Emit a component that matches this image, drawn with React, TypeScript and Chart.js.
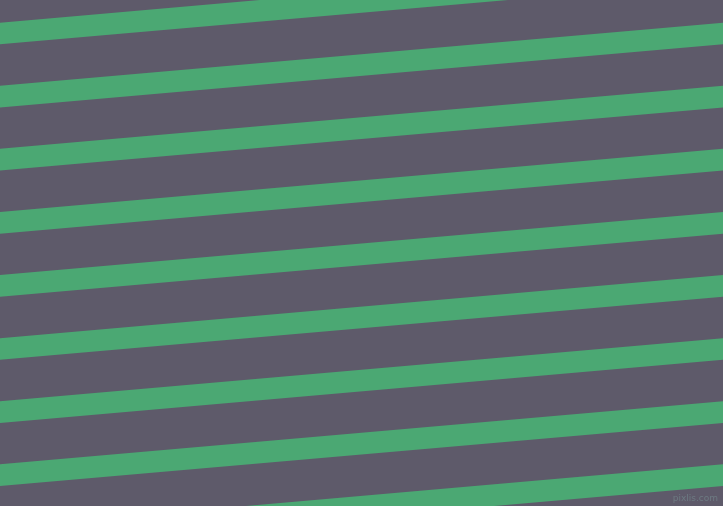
import React, { useRef, useEffect } from 'react';
import { Chart, registerables } from 'chart.js';
Chart.register(...registerables);

// stripe centre heights at the left (x = 0) and right (x = 723) edges
const stripeLeft = [33.5, 96.6, 159.7, 222.8, 285.9, 349.0, 412.1, 475.2, 538.3];
const stripeRight = [-29.6, 33.5, 96.6, 159.7, 222.8, 285.9, 349.0, 412.1, 475.2];
const edgeX = [0, 723];

const W = 723;
const H = 506;

const App: React.FC = () => {
  const chartRef = useRef<HTMLCanvasElement | null>(null);
  const chartInstance = useRef<Chart | null>(null);

  useEffect(() => {
    document.body.style.margin = '0';
    if (chartInstance.current) {
      chartInstance.current.destroy();
    }
    const ctx = chartRef.current?.getContext('2d');
    if (ctx) {
      chartInstance.current = new Chart(ctx, {
        type: 'line',
        data: {
          datasets: stripeLeft.map((y0, i) => ({
            data: [
              { x: edgeX[0], y: y0 },
              { x: edgeX[1], y: stripeRight[i] },
            ],
            borderColor: '#4ba873',
            borderWidth: 21.6,
            borderCapStyle: 'square' as const,
            pointRadius: 0,
            fill: false,
          })),
        },
        options: {
          responsive: false,
          animation: false,
          layout: { padding: 0 },
          plugins: {
            legend: { display: false },
            tooltip: { enabled: false },
          },
          scales: {
            x: { type: 'linear', min: 0, max: W, display: false },
            y: { type: 'linear', min: 0, max: H, reverse: true, display: false },
          },
        },
      });
    }
    return () => {
      if (chartInstance.current) {
        chartInstance.current.destroy();
        chartInstance.current = null;
      }
    };
  }, []);

  return (
    <div style={{ position: 'relative', width: W, height: H, background: '#5e5a6a' }}>
      <canvas ref={chartRef} width={W} height={H} style={{ display: 'block' }} />
      <span
        style={{
          position: 'absolute',
          right: 5,
          bottom: 3,
          fontFamily: 'DejaVu Sans, sans-serif',
          fontSize: 9,
          color: '#6d7a82',
        }}
      >
        pixlis.com
      </span>
    </div>
  );
};

export default App;
